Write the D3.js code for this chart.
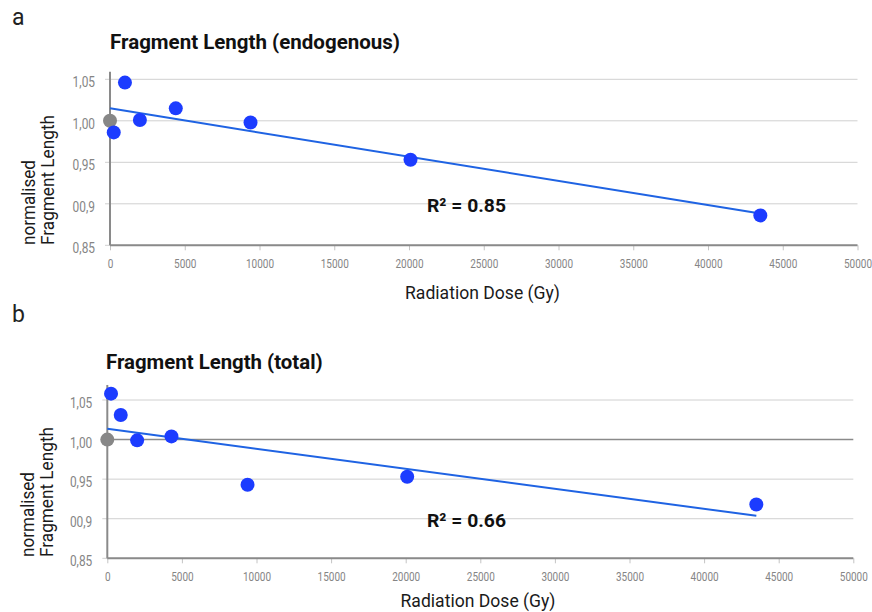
<!DOCTYPE html>
<html>
<head>
<meta charset="utf-8">
<script src="https://cdn.jsdelivr.net/npm/d3@7"></script>
<style>
  body { margin: 0; background: #fff; }
  svg { display: block; }
  text { font-family: Roboto, "Liberation Sans", sans-serif; }
</style>
</head>
<body>
<div id="chart"></div>
<script>
// values (first point = unirradiated control, grey)
var doseA = [0, 250, 1000, 2000, 4400, 9400, 20100, 43500];
var lengthA = [1.000, 0.986, 1.046, 1.001, 1.015, 0.998, 0.953, 0.886];

var doseB = [0, 250, 900, 2000, 4300, 9400, 20100, 43500];
var lengthB = [1.000, 1.058, 1.031, 0.999, 1.004, 0.943, 0.953, 0.918];

var xTicks = [0, 5000, 10000, 15000, 20000, 25000, 30000, 35000, 40000, 45000, 50000];
var yTicks = [0.85, 0.90, 0.95, 1.00, 1.05];
var yTickLabels = ["0,85", "00,9", "0,95", "1,00", "1,05"];

var titles = ["Fragment Length (endogenous)", "Fragment Length (total)"];
var r2Labels = ["R² = 0.85", "R² = 0.66"];
var letters = ["a", "b"];

var width = 872, height = 612;

var svg = d3.select("#chart")
  .append("svg")
  .attr("width", width)
  .attr("height", height);

// layout for each panel
var panels = [
  { dose: doseA, len: lengthA, left: 110, right: 857.5, bottom: 245.3, top: 79.3, yTop: 1.059,
    letterY: 25, titleX: 110, titleY: 49.3, titleW: 290, r2X: 427, r2Y: 211.7,
    xTitleX: 482.5, xTitleY: 298.5, yTitleBottom: 245, yTitleX: [35, 54.3], darkOne: false },
  { dose: doseB, len: lengthB, left: 107.3, right: 853.3, bottom: 558.3, top: 400, yTop: 1.069,
    letterY: 322, titleX: 106, titleY: 369.3, titleW: 216.7, r2X: 427, r2Y: 526.7,
    xTitleX: 478, xTitleY: 607, yTitleBottom: 557, yTitleX: [33.5, 52.6], darkOne: true }
];

panels.forEach(function(p, i) {
  var g = svg.append("g");

  var x = d3.scaleLinear().domain([0, 50000]).range([p.left, p.right]);
  var y = d3.scaleLinear().domain([0.85, 1.05]).range([p.bottom, p.top]);

  // gridlines
  g.selectAll(".grid")
    .data(yTicks)
    .enter().append("line")
    .attr("class", "grid")
    .attr("x1", p.left - 5)
    .attr("x2", p.right)
    .attr("y1", function(d) { return y(d); })
    .attr("y2", function(d) { return y(d); })
    .attr("stroke", function(d) { return (p.darkOne && d === 1.00) ? "#8a8a8a" : "#d0d0d0"; })
    .attr("stroke-width", function(d) { return (p.darkOne && d === 1.00) ? 1.5 : 1; });

  // y tick labels
  g.selectAll(".ylab")
    .data(yTicks)
    .enter().append("text")
    .attr("class", "ylab")
    .attr("transform", function(d) { return "translate(" + (p.left - 15) + "," + (y(d) + 8) + ") scale(0.85,1)"; })
    .attr("text-anchor", "end")
    .attr("font-size", 14)
    .attr("fill", "#858585")
    .text(function(d, j) { return yTickLabels[j]; });

  // x axis
  var xAxis = d3.axisBottom(x)
    .tickValues(xTicks)
    .tickSizeInner(5)
    .tickSizeOuter(0)
    .tickFormat(d3.format("d"));

  var xg = g.append("g")
    .attr("transform", "translate(0," + p.bottom + ")")
    .call(xAxis);
  xg.select(".domain").remove();
  xg.selectAll(".tick line").attr("stroke", "#c4c4c4");
  xg.selectAll(".tick text")
    .attr("y", 13)
    .attr("font-size", 13.5)
    .attr("font-family", "Roboto, sans-serif")
    .attr("fill", "#858585")
    .attr("transform", "scale(0.74,1)");

  // axis lines
  g.append("line")
    .attr("x1", p.left).attr("x2", p.right)
    .attr("y1", p.bottom).attr("y2", p.bottom)
    .attr("stroke", "#8a8a8a").attr("stroke-width", 2);
  g.append("line")
    .attr("x1", p.left).attr("x2", p.left)
    .attr("y1", p.bottom).attr("y2", y(p.yTop))
    .attr("stroke", "#8a8a8a").attr("stroke-width", 2);

  // least squares trend line
  var mx = d3.mean(p.dose), my = d3.mean(p.len);
  var sxy = d3.sum(p.dose, function(d, j) { return (d - mx) * (p.len[j] - my); });
  var sxx = d3.sum(p.dose, function(d) { return (d - mx) * (d - mx); });
  var slope = sxy / sxx, intercept = my - slope * mx;
  var ends = [0, d3.max(p.dose)];

  g.append("path")
    .datum(ends)
    .attr("d", d3.line()
      .x(function(d) { return x(d); })
      .y(function(d) { return y(intercept + slope * d); }))
    .attr("fill", "none")
    .attr("stroke", "#1f63e3")
    .attr("stroke-width", 2);

  // points
  g.selectAll(".dot")
    .data(p.dose)
    .enter().append("circle")
    .attr("class", "dot")
    .attr("cx", function(d) { return x(d); })
    .attr("cy", function(d, j) { return y(p.len[j]); })
    .attr("r", 7)
    .attr("fill", function(d, j) { return j === 0 ? "#878787" : "#1c3cff"; });

  // panel letter
  g.append("text")
    .attr("x", 12).attr("y", p.letterY)
    .attr("font-family", "'Open Sans', sans-serif")
    .attr("font-size", 23)
    .attr("fill", "#222")
    .text(letters[i]);

  // title
  g.append("text")
    .attr("x", p.titleX).attr("y", p.titleY)
    .attr("font-size", 21)
    .attr("font-weight", "bold")
    .attr("fill", "#111")
    .attr("textLength", p.titleW)
    .attr("lengthAdjust", "spacingAndGlyphs")
    .text(titles[i]);

  // R squared
  g.append("text")
    .attr("x", p.r2X).attr("y", p.r2Y)
    .attr("font-family", "'Liberation Sans', Arial, sans-serif")
    .attr("font-size", 19)
    .attr("font-weight", "bold")
    .attr("fill", "#111")
    .attr("textLength", 79)
    .attr("lengthAdjust", "spacingAndGlyphs")
    .text(r2Labels[i]);

  // x axis title
  g.append("text")
    .attr("x", p.xTitleX).attr("y", p.xTitleY)
    .attr("text-anchor", "middle")
    .attr("font-size", 19)
    .attr("fill", "#1a1a1a")
    .attr("textLength", 155)
    .attr("lengthAdjust", "spacingAndGlyphs")
    .text("Radiation Dose (Gy)");

  // y axis title, two lines
  [["normalised", 85], ["Fragment Length", 130]].forEach(function(t, k) {
    g.append("text")
      .attr("transform", "translate(" + p.yTitleX[k] + "," + p.yTitleBottom + ") rotate(-90)")
      .attr("font-size", 18)
      .attr("fill", "#1a1a1a")
      .attr("textLength", t[1])
      .attr("lengthAdjust", "spacingAndGlyphs")
      .text(t[0]);
  });
});
</script>
</body>
</html>
